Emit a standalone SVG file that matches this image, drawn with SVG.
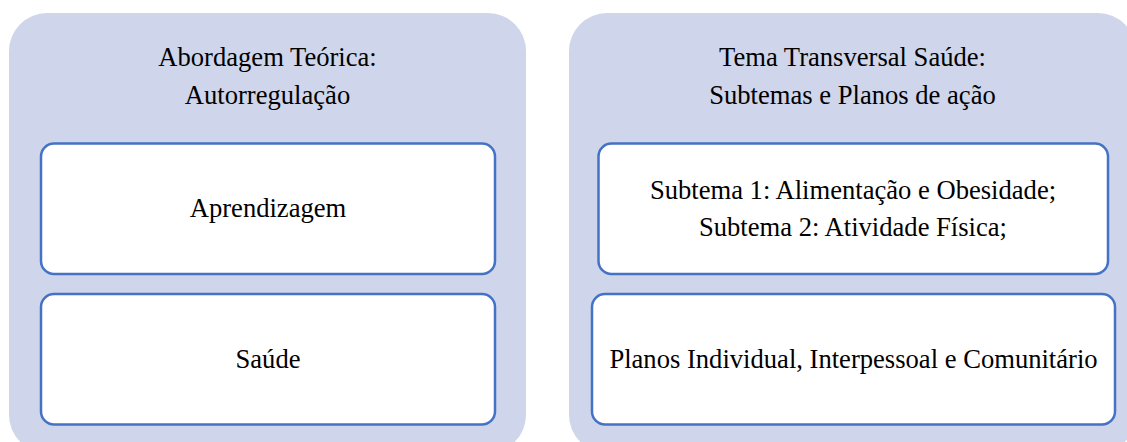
<svg xmlns="http://www.w3.org/2000/svg" width="1127" height="442" viewBox="0 0 1127 442">
<style>
.panel{fill:#CFD5EA;stroke:none}
.box{fill:#FFFFFF;stroke:#4472C4;stroke-width:2.5}
.t{font-family:"Liberation Serif","Times New Roman",serif;font-size:26.6px;fill:#000000;text-anchor:middle}
</style>
<rect width="1127" height="442" fill="#FFFFFF"/>
<g id="panel-left">
<rect class="panel" x="9" y="13" width="517" height="440" rx="38" ry="38"/>
<text class="t" x="267.5" y="66">Abordagem Teórica:</text>
<text class="t" x="267.5" y="103.5">Autorregulação</text>
</g>
<g id="node-aprendizagem">
<rect class="box" x="41" y="143.5" width="454" height="130.5" rx="13" ry="13"/>
<text class="t" x="268" y="217">Aprendizagem</text>
</g>
<g id="node-saude">
<rect class="box" x="41" y="294" width="454" height="130.5" rx="13" ry="13"/>
<text class="t" x="268" y="368">Saúde</text>
</g>
<g id="panel-right">
<rect class="panel" x="569" y="13" width="567" height="440" rx="38" ry="38"/>
<text class="t" x="852.5" y="66">Tema Transversal Saúde:</text>
<text class="t" x="852.5" y="103.5">Subtemas e Planos de ação</text>
</g>
<g id="node-subtemas">
<rect class="box" x="598.5" y="143.5" width="509.5" height="130.5" rx="13" ry="13"/>
<text class="t" x="853" y="198.5">Subtema 1: Alimentação e Obesidade;</text>
<text class="t" x="853" y="236">Subtema 2: Atividade Física;</text>
</g>
<g id="node-planos">
<rect class="box" x="592" y="294" width="523" height="130.5" rx="13" ry="13"/>
<text class="t" x="853.5" y="368">Planos Individual, Interpessoal e Comunitário</text>
</g>
<g id="connectors"></g>
</svg>
